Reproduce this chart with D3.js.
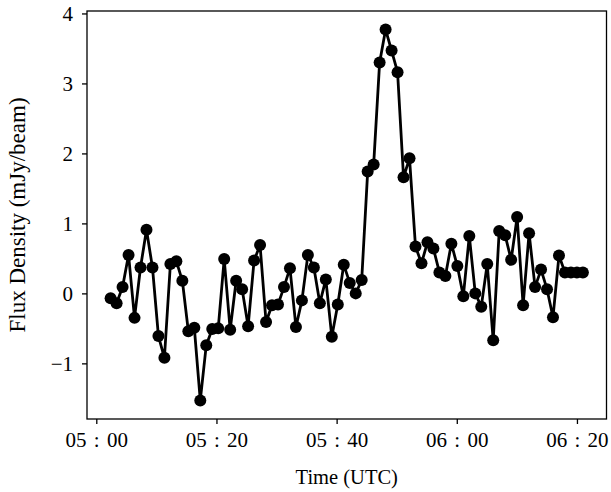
<!DOCTYPE html>
<html>
<head>
<meta charset="utf-8">
<script src="https://cdn.jsdelivr.net/npm/d3@7"></script>
<style>
  html, body { margin: 0; padding: 0; background: #fff; }
  svg { display: block; }
  text { font-family: "Liberation Serif", "Times New Roman", serif; fill: #000; }
</style>
</head>
<body>
<svg id="chart" width="611" height="492"></svg>
<script>
// Light curve: flux density sampled once per integration, starting at 05:02:23 UTC
const startTime = "2000-01-01T05:02:23Z";
const cadenceSeconds = 59.7;
const fluxDensity = [
  -0.07, -0.14, 0.09, 0.55, -0.35, 0.37, 0.91, 0.37, -0.61, -0.92,
  0.42, 0.46, 0.18, -0.54, -0.49, -1.53, -0.74, -0.51, -0.50, 0.49,
  -0.52, 0.18, 0.06, -0.47, 0.47, 0.69, -0.41, -0.17, -0.16, 0.09,
  0.36, -0.48, -0.10, 0.55, 0.37, -0.14, 0.20, -0.62, -0.16, 0.41,
  0.15, 0.00, 0.19, 1.74, 1.84, 3.30, 3.77, 3.47, 3.16, 1.66,
  1.93, 0.67, 0.43, 0.73, 0.64, 0.30, 0.25, 0.71, 0.39, -0.04,
  0.82, 0.00, -0.19, 0.42, -0.67, 0.89, 0.83, 0.48, 1.09, -0.17,
  0.86, 0.09, 0.34, 0.06, -0.34, 0.54, 0.30, 0.30, 0.30, 0.30
];
const xTickLabels = ["05 : 00", "05 : 20", "05 : 40", "06 : 00", "06 : 20"];
const xTickTimes = ["05:00", "05:20", "05:40", "06:00", "06:20"];
const yTicks = [-1, 0, 1, 2, 3, 4];

const t0 = new Date(startTime);
const times = fluxDensity.map((_, i) => new Date(t0.getTime() + i * cadenceSeconds * 1000));
const points = fluxDensity.map((v, i) => ({ t: times[i], v }));

const margin = { left: 87, right: 4.5, top: 11, bottom: 73 };
const W = 611, H = 492;
const svg = d3.select("#chart");

// Axis limits padded by 5% of the data span on each side
const tExt = d3.extent(times);
const tPad = (tExt[1] - tExt[0]) * 0.05;
const vExt = d3.extent(fluxDensity);
const vPad = (vExt[1] - vExt[0]) * 0.05;

const x = d3.scaleUtc()
  .domain([new Date(+tExt[0] - tPad), new Date(+tExt[1] + tPad)])
  .range([margin.left, W - margin.right]);
const y = d3.scaleLinear()
  .domain([vExt[0] - vPad, vExt[1] + vPad])
  .range([H - margin.bottom, margin.top]);

const tickDates = xTickTimes.map(s => new Date("2000-01-01T" + s + ":00Z"));

const xAxis = d3.axisBottom(x)
  .tickValues(tickDates)
  .tickFormat((d, i) => xTickLabels[i])
  .tickSize(5)
  .tickPadding(8);
const yAxis = d3.axisLeft(y)
  .tickValues(yTicks)
  .tickFormat(d => d < 0 ? "\u2212" + Math.abs(d) : String(d))
  .tickSize(5)
  .tickPadding(9);

const gx = svg.append("g")
  .attr("transform", `translate(0,${H - margin.bottom})`)
  .call(xAxis);
const gy = svg.append("g")
  .attr("transform", `translate(${margin.left},0)`)
  .call(yAxis);

[gx, gy].forEach(g => {
  g.select(".domain").remove();
  g.selectAll(".tick line").attr("stroke", "#000").attr("stroke-width", 1.3);
  g.selectAll(".tick text").attr("font-size", 21).attr("fill", "#000")
    .attr("font-family", "'Liberation Serif', serif");
});
gx.selectAll(".tick text").attr("dy", "0.72em").attr("word-spacing", 2);

// Trace
const line = d3.line().x(d => x(d.t)).y(d => y(d.v));
svg.append("path")
  .datum(points)
  .attr("fill", "none")
  .attr("stroke", "#000")
  .attr("stroke-width", 2.8)
  .attr("stroke-linejoin", "round")
  .attr("d", line);

svg.append("g")
  .selectAll("circle")
  .data(points)
  .join("circle")
  .attr("cx", d => x(d.t))
  .attr("cy", d => y(d.v))
  .attr("r", 6)
  .attr("fill", "#000");

// Frame
svg.append("rect")
  .attr("x", margin.left)
  .attr("y", margin.top)
  .attr("width", W - margin.left - margin.right)
  .attr("height", H - margin.top - margin.bottom)
  .attr("fill", "none")
  .attr("stroke", "#000")
  .attr("stroke-width", 1.3);

// Axis titles
svg.append("text")
  .attr("x", (margin.left + W - margin.right) / 2)
  .attr("y", 484)
  .attr("text-anchor", "middle")
  .attr("font-size", 20.5)
  .text("Time (UTC)");

svg.append("text")
  .attr("transform", `translate(25,${(margin.top + H - margin.bottom) / 2}) rotate(-90)`)
  .attr("text-anchor", "middle")
  .attr("font-size", 23)
  .text("Flux Density (mJy/beam)");
</script>
</body>
</html>
